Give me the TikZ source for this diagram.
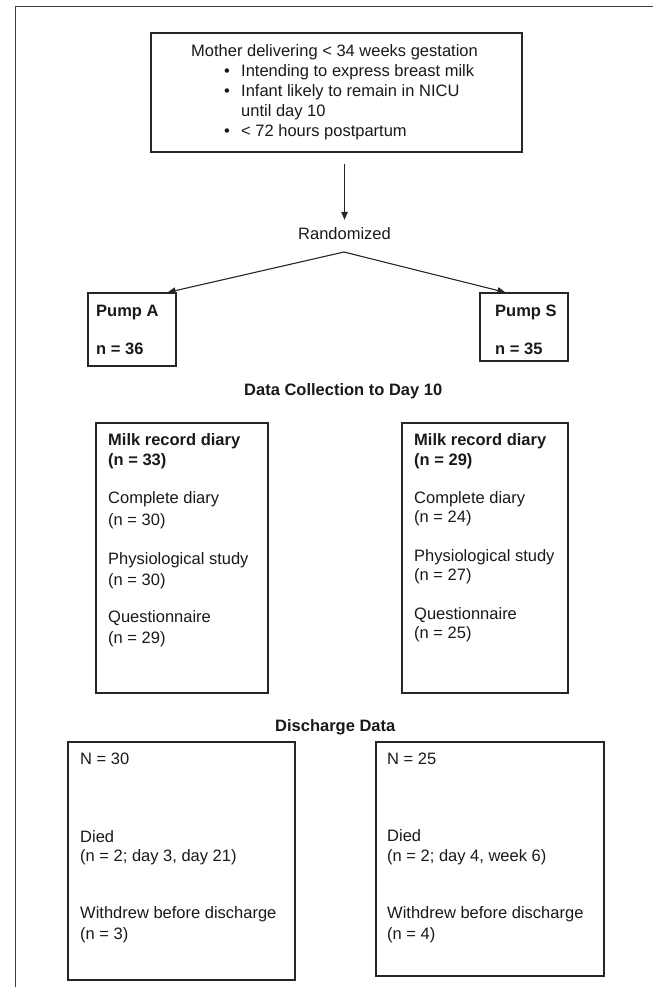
\documentclass[tikz,border=0pt]{standalone}
\usepackage{fontspec}
\setmainfont{Liberation Sans}
\usetikzlibrary{arrows.meta}
\begin{document}
\begin{tikzpicture}[x=1pt,y=-1pt,
  boxst/.style={draw=black!85, line width=1.2pt, inner sep=0pt},
  txt/.style={anchor=base west, inner sep=0pt, font=\fontsize{16.5}{20}\selectfont, text=black!90},
  btxt/.style={anchor=base west, inner sep=0pt, font=\fontsize{16.5}{20}\selectfont\bfseries, text=black!90},
  arr/.style={draw=black!85, line width=1.1pt, -{Triangle[length=8pt,width=6.5pt]}}]
\useasboundingbox (0,0) rectangle (653,987);
% outer frame (only top and left visible)
\draw[line width=1pt, black!75] (15,987) -- (15,7) -- (653,7);

% boxes
\node[boxst, minimum width=371pt, minimum height=119pt] (top) at (336.5,92.5) {};
\node[boxst, minimum width=88pt, minimum height=73pt] (pumpA) at (132,329.5) {};
\node[boxst, minimum width=88pt, minimum height=68pt] (pumpS) at (524,327) {};
\node[boxst, minimum width=172pt, minimum height=270pt] (milkA) at (182,558) {};
\node[boxst, minimum width=166pt, minimum height=270pt] (milkS) at (485,558) {};
\node[boxst, minimum width=227pt, minimum height=238pt] (disA) at (181.5,861) {};
\node[boxst, minimum width=228pt, minimum height=234pt] (disS) at (490,859) {};

% top box text
\node[txt] (t0) at (191,57) {Mother delivering < 34 weeks gestation};
\node[txt] (b1) at (224,77) {•};
\node[txt] (t1) at (241,77) {Intending to express breast milk};
\node[txt] (b2) at (224,97) {•};
\node[txt] (t2) at (241,97) {Infant likely to remain in NICU};
\node[txt] (t3) at (241,117) {until day 10};
\node[txt] (b3) at (224,137) {•};
\node[txt] (t4) at (241,137) {< 72 hours postpartum};

% randomized
\node[txt] (rand) at (298,239) {Randomized};
\draw[arr, shorten >=7pt] ([yshift=-11pt]top.south -| rand.north) -- (rand.north);
\coordinate (apex) at (344,252);
\draw[arr] (apex) -- ([xshift=-9pt]pumpA.north east);
\draw[arr] (apex) -- ([xshift=26pt]pumpS.north west);

% pump boxes
\node[btxt] (pa1) at (96,316.5) {Pump A};
\node[btxt] (pa2) at (96,354.5) {n = 36};
\node[btxt] (ps1) at (495,316.5) {Pump S};
\node[btxt] (ps2) at (495,354.5) {n = 35};

\node[btxt] (dc) at (244,395) {Data Collection to Day 10};

% milk boxes
\node[btxt] (ma1) at (108,445.5) {Milk record diary};
\node[btxt] (ma2) at (108,465.5) {(n = 33)};
\node[txt] (ma3) at (108,503.5) {Complete diary};
\node[txt] (ma4) at (108,525) {(n = 30)};
\node[txt] (ma5) at (108,564.5) {Physiological study};
\node[txt] (ma6) at (108,585) {(n = 30)};
\node[txt] (ma7) at (108,622.5) {Questionnaire};
\node[txt] (ma8) at (108,643) {(n = 29)};

\node[btxt] (ms1) at (414,445.5) {Milk record diary};
\node[btxt] (ms2) at (414,465) {(n = 29)};
\node[txt] (ms3) at (414,503) {Complete diary};
\node[txt] (ms4) at (414,522) {(n = 24)};
\node[txt] (ms5) at (414,561) {Physiological study};
\node[txt] (ms6) at (414,580.5) {(n = 27)};
\node[txt] (ms7) at (414,619) {Questionnaire};
\node[txt] (ms8) at (414,638) {(n = 25)};

\node[btxt] (dd) at (275,731) {Discharge Data};

% discharge boxes
\node[txt] (da1) at (80,764.5) {N = 30};
\node[txt] (da2) at (80,842) {Died};
\node[txt] (da3) at (80,861.5) {(n = 2; day 3, day 21)};
\node[txt] (da4) at (80,918.5) {Withdrew before discharge};
\node[txt] (da5) at (80,939.5) {(n = 3)};

\node[txt] (ds1) at (387,764.5) {N = 25};
\node[txt] (ds2) at (387,841.5) {Died};
\node[txt] (ds3) at (387,861) {(n = 2; day 4, week 6)};
\node[txt] (ds4) at (387,918.5) {Withdrew before discharge};
\node[txt] (ds5) at (387,939) {(n = 4)};
\end{tikzpicture}
\end{document}
